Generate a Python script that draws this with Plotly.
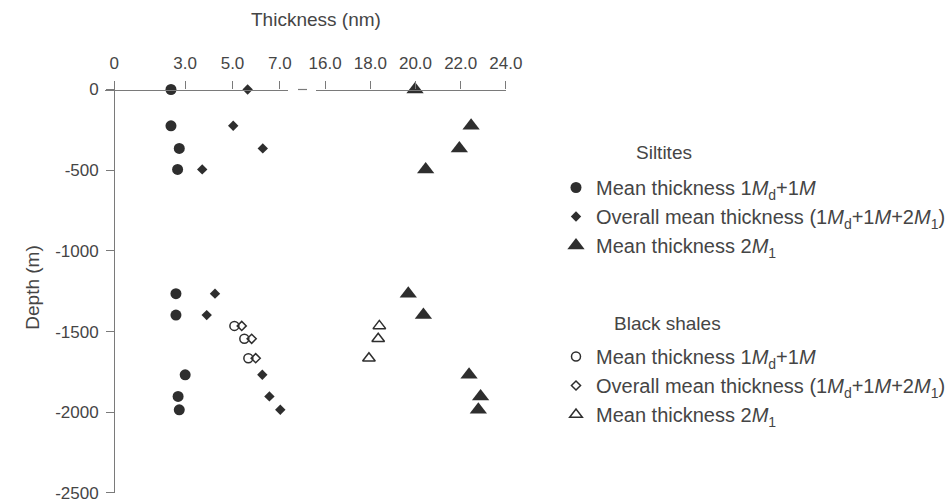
import plotly.graph_objects as go

# Depths (m) of the sampled levels
siltite_depth = [0, -225, -365, -495, -1265, -1398, -1768, -1902, -1985]
shale_depth = [-1465, -1545, -1665]

# Thickness values (nm)
siltite_mean_md_m = [2.40, 2.40, 2.75, 2.68, 2.61, 2.61, 3.00, 2.70, 2.75]
siltite_overall = [5.64, 5.03, 6.28, 3.72, 4.26, 3.91, 6.26, 6.56, 7.02]
siltite_mean_2m1 = [19.98, 22.46, 21.94, 20.45, 19.68, 20.35, 22.37, 22.88, 22.78]

shale_mean_md_m = [5.08, 5.50, 5.67]
shale_overall = [5.39, 5.81, 5.98]
shale_mean_2m1 = [18.40, 18.35, 17.94]

# Tick labels of the broken thickness axis and of the depth axis
low_ticks = [0, 3, 5, 7]
low_ticktext = ["0", "3.0", "5.0", "7.0"]
high_ticks = [16, 18, 20, 22, 24]
high_ticktext = ["16.0", "18.0", "20.0", "22.0", "24.0"]
depth_ticks = [0, -500, -1000, -1500, -2000, -2500]
depth_ticktext = ["0", "-500", "-1000", "-1500", "-2000", "-2500"]

label_md_m = "Mean thickness 1<i>M</i><sub>d</sub>+1<i>M</i>"
label_overall = "Overall mean thickness (1<i>M</i><sub>d</sub>+1<i>M</i>+2<i>M</i><sub>1</sub>)"
label_2m1 = "Mean thickness 2<i>M</i><sub>1</sub>"

W, H = 945, 503
FONT = "Liberation Sans, Arial, sans-serif"
TXT = "#454545"
AX = "#7a7a7a"
MK = "#2e2e2e"


def px_x(p):
    return p / W


def px_y(p):
    return 1 - p / H


# pixel geometry of the frame
y_zero_px, y_min_px, y_top_px = 89.5, 493.0, 82.0
m_per_px = 2500 / (y_min_px - y_zero_px)
y_top_val = (y_zero_px - y_top_px) * m_per_px

lo_left, lo_right, lo_zero, lo_scale = 105.0, 288.0, 114.2, 23.66
hi_left, hi_right, hi_20, hi_scale = 316.0, 506.0, 415.5, 22.6

fig = go.Figure()


def add(x, y, xa, name, symbol, size, group, open_=False):
    fig.add_trace(go.Scatter(
        x=x, y=y, xaxis=xa, yaxis="y", mode="markers", name=name,
        legendgroup=group,
        marker=dict(symbol=symbol, size=size, color=MK,
                    line=dict(width=1.5 if open_ else 0, color=MK)),
    ))


add(siltite_mean_md_m, siltite_depth, "x", label_md_m, "circle", 11, "silt")
add(siltite_overall, siltite_depth, "x", label_overall, "diamond", 8, "silt")
add(siltite_mean_2m1, siltite_depth, "x2", label_2m1, "triangle-up", 15, "silt")
add(shale_mean_md_m, shale_depth, "x", label_md_m, "circle-open", 9, "shale", True)
add(shale_overall, shale_depth, "x", label_overall, "diamond-open", 7, "shale", True)
add(shale_mean_2m1, shale_depth, "x2", label_2m1, "triangle-up-open", 11, "shale", True)

common_x = dict(
    side="top", anchor="free", position=px_y(y_zero_px),
    showline=True, linecolor=AX, linewidth=1.2,
    ticks="outside", ticklen=8, tickcolor=AX, tickwidth=1.2,
    showgrid=False, zeroline=False,
    tickfont=dict(family=FONT, size=17, color=TXT),
    ticklabelstandoff=6,
)

fig.update_layout(
    width=W, height=H,
    margin=dict(l=0, r=0, t=0, b=0, autoexpand=False),
    paper_bgcolor="white", plot_bgcolor="white",
    font=dict(family=FONT, color=TXT),
    xaxis=dict(
        domain=[px_x(lo_left), px_x(lo_right)],
        range=[(lo_left - lo_zero) / lo_scale, (lo_right - lo_zero) / lo_scale],
        tickvals=low_ticks, ticktext=low_ticktext, **common_x,
    ),
    xaxis2=dict(
        domain=[px_x(hi_left), px_x(hi_right)],
        range=[20 + (hi_left - hi_20) / hi_scale, 20 + (hi_right - hi_20) / hi_scale],
        tickvals=high_ticks, ticktext=high_ticktext, **common_x,
    ),
    yaxis=dict(
        domain=[px_y(y_min_px), px_y(y_top_px)],
        range=[-2500.5, y_top_val],
        anchor="free", position=px_x(lo_zero),
        showline=True, linecolor=AX, linewidth=1.2,
        ticks="outside", ticklen=8, tickcolor=AX, tickwidth=1.2,
        tickvals=depth_ticks, ticktext=depth_ticktext,
        ticklabeloverflow="allow",
        showgrid=False, zeroline=False,
        tickfont=dict(family=FONT, size=17, color=TXT),
        ticklabelstandoff=4,
        title=dict(text="Depth (m)", font=dict(family=FONT, size=19, color=TXT), standoff=9),
    ),
    legend=dict(
        x=px_x(556), y=px_y(168), xanchor="left", yanchor="top",
        font=dict(family=FONT, size=20, color=TXT),
        tracegroupgap=82, bgcolor="rgba(0,0,0,0)",
        itemsizing="trace",
    ),
    showlegend=True,
    shapes=[
        # break mark between the two thickness segments
        dict(type="line", xref="paper", yref="paper",
             x0=px_x(298), x1=px_x(307), y0=px_y(y_zero_px), y1=px_y(y_zero_px),
             line=dict(color=AX, width=1.2)),
    ],
    annotations=[
        dict(text="Thickness (nm)", xref="paper", yref="paper",
             x=px_x(316), y=px_y(20), xanchor="center", yanchor="middle",
             showarrow=False, font=dict(family=FONT, size=19, color=TXT)),
        dict(text="Siltites", xref="paper", yref="paper",
             x=px_x(664), y=px_y(152), xanchor="center", yanchor="middle",
             showarrow=False, font=dict(family=FONT, size=19, color=TXT)),
        dict(text="Black shales", xref="paper", yref="paper",
             x=px_x(667), y=px_y(323), xanchor="center", yanchor="middle",
             showarrow=False, font=dict(family=FONT, size=19, color=TXT)),
    ],
)

fig.write_html("out.html")
